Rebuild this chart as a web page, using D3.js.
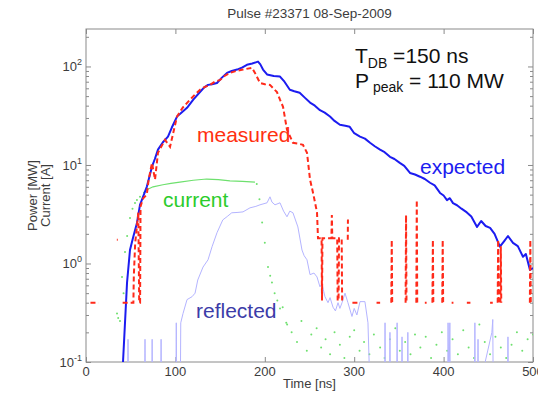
<!DOCTYPE html>
<html><head><meta charset="utf-8">
<script src="https://cdn.jsdelivr.net/npm/d3@7"></script>
<style>body{margin:0;background:#fff;} text{font-family:"Liberation Sans",Arial,Helvetica,sans-serif;}</style>
</head><body><svg id="c" width="538" height="393"></svg>
<script>
// ---- data ----
const xTicks = [0, 100, 200, 300, 400, 500];
const yTicks = [0.1, 1, 10, 100];
const yTickExp = ["-1", "0", "1", "2"];
const title = "Pulse #23371 08-Sep-2009";

// expected power (MW) vs time (ns)
const expected = [[41.4,0.1],[45.9,0.64],[49.2,1.37],[52.6,1.82],[57,2.58],[60.4,3.94],[66,5.35],[68,6],[73.8,9.6],[77,11.5],[80.5,14.3],[86,17],[91.7,19.4],[96,24],[101.8,31],[107,34],[113,38],[120,46],[127.5,55],[132,61],[136.5,65],[141,66],[146.5,68],[152,77],[157.7,86],[163,90],[169,93],[175,98],[180,104],[186,107],[192.4,112],[195,105],[198,93],[202.5,83],[210,80],[217,79],[222,70],[228,58],[233,56],[239,54],[245,48],[250.6,43],[256,40],[261.7,36],[267,34],[272.9,31],[278,28],[284,25.6],[290,25],[295,24.4],[300,21],[306.5,19.4],[312,18.5],[317.7,16.8],[323,15.5],[328.9,14.3],[334,13.5],[340,12.1],[345,11.5],[351,10.5],[356,9.8],[362.4,8.3],[368,8],[373.6,7.6],[379,7.2],[384.8,6.6],[390,6.2],[396,5.2],[400,4.9],[403.8,4.4],[407,4.6],[410.5,4.1],[415,3.9],[420,3.6],[426,3.3],[431,3.0],[437.4,2.35],[442,2.7],[447,2.4],[452,2.3],[457,2.0],[463,1.48],[468,1.7],[472,1.9],[477.6,1.62],[483,1.5],[488.8,1.17],[492,1.25],[496.6,0.86],[500,0.9]];

// measured power (MW); null = gap
const measured = [[5,0.4],[14,0.4],null,
 [34.5,1.74],[35.5,1.74],null,
 [41,0.4],[53,0.4],[53.5,0.75],[55,1.6],[57,2.4],[58.5,3.3],[59.5,0.4],[60.5,0.4],[61,3.8],[64,4.6],[68,5],[70,7],[73.8,10.5],[77.2,7.1],[80.5,13.3],[88.4,18],[94,15.3],[101.8,31],[108,38],[116.3,46],[122,52],[127.5,58],[133,62],[138.7,65],[144,70],[150,73],[155,80],[161,86],[168,90],[175.6,93],[185.7,97],[189,86],[194.6,68],[200,66],[205.8,65],[213.6,55],[217,46],[220.4,39],[224.8,22.8],[231.5,16.8],[237,16.5],[242.7,16],[247.2,13.3],[250.6,7.1],[254,5.2],[258.4,3.3],[259.5,1.8],[263.5,1.8],[264,0.42],[264.5,1.8],[274.5,1.8],[275,3.1],[275.5,1.8],[281,1.8],[281.5,0.42],[282.5,0.42],[283,1.8],[286,1.8],[286.5,0.42],null,
 [292.8,1.74],[293,2.8],null,
 [298,0.4],[304,0.4],null,
 [325,0.4],[329,0.4],null,
 [341.5,0.4],[342,1.74],[342.5,0.4],null,
 [357.5,0.4],[358,3.1],[358.5,0.4],null,
 [369.5,0.4],[370,4.4],[370.5,0.4],null,
 [379,0.4],[381,0.4],null,
 [387.5,0.4],[388,1.74],[388.5,0.4],null,
 [398.5,0.4],[399,1.74],[399.5,0.4],null,
 [409,0.4],[411,0.4],null,
 [426,0.4],[430,0.4],null,
 [452,0.4],[455,0.4],null,
 [460.5,0.4],[461,1.74],[461.5,0.4],null,
 [463.5,0.4],[464,1.5],[464.5,0.4],null,
 [496.5,0.4],[497,1.74],[497.5,0.4]];

// current (A): plateau line and sampled dots
const currentLine = [[64,5.2],[68,5.6],[75,6.0],[86,6.3],[95,6.5],[105,6.7],[120,7.0],[135,7.2],[148,7.1],[161,6.9],[175,6.8],[189,6.7]];
const currentDots = [[34.7,0.31],[36,0.28],[38,0.26],[40.3,0.73],[42,0.5],[43.6,1.31],[46,1.9],[49.2,2.9],[52,3.6],[54.8,4.1],[57,4.4],[60.4,4.75],
 [191,6.4],[194,4.5],[197,2.6],[200,1.62],[203.6,0.92],[206,0.75],[208,0.64],[211,0.5],[214,0.42],[217,0.35],[220,0.36],[224,0.25],
 [225,0.24],[230,0.2],[236,0.16],[241,0.26],[247,0.13],[252,0.19],[258,0.22],[263,0.14],[268,0.17],[273,0.12],[278,0.2],[284,0.15],[289,0.11],[295,0.18],[300,0.21],[306,0.13],[311,0.16],[317,0.12],[322,0.19],[329,0.14],[334,0.11],[340,0.17],[346,0.22],[351,0.13],[357,0.16],[363,0.12],[368,0.19],[374,0.14],[380,0.18],[386,0.11],[392,0.15],[398,0.2],[404,0.13],[410,0.17],[416,0.12],[422,0.21],[428,0.14],[434,0.11],[440,0.24],[446,0.16],[452,0.12],[458,0.18],[464,0.14],[470,0.11],[476,0.15],[482,0.2],[488,0.13],[494,0.17],[500,0.19]];

// reflected power (MW)
const reflected = [[40,0.05],[46.5,0.05],[47,0.17],[47.5,0.05],[65.5,0.05],[66,0.17],[66.5,0.05],[73.5,0.05],[74,0.17],[74.5,0.05],[83.5,0.05],[84,0.17],[84.5,0.05],[100.5,0.05],[101,0.25],[101.5,0.05],[105.5,0.05],[106,0.25],[108.5,0.31],[113,0.43],[118.6,0.46],[122,0.5],[125,0.68],[130.9,0.92],[136.5,1.09],[141,1.48],[146.5,2.05],[153,2.77],[158,3.0],[163,3.27],[170,3.3],[175.6,3.34],[183.4,3.67],[190,3.8],[194.6,3.94],[202.5,4.13],[205.8,4.75],[208,4.2],[211.4,3.94],[217,4.13],[221,3.4],[224.8,2.98],[228,3.4],[231.5,3.27],[237,2.35],[241.6,1.37],[244,1.2],[247.2,1.09],[250.6,0.77],[255,0.8],[258.4,0.73],[261.7,0.58],[264,0.62],[267.3,0.46],[270.7,0.40],[273,0.45],[276.3,0.36],[279,0.33],[281.9,0.40],[284,0.35],[286.4,0.40],[289.7,0.50],[293,0.40],[297.5,0.29],[300,0.35],[303,0.3],[306.5,0.41],[312,0.41],[315.4,0.25],[317.7,0.05],
 [334,0.05],[334.5,0.25],[335,0.05],[339.5,0.05],[340,0.2],[340.5,0.05],[347.5,0.05],[348,0.25],[348.5,0.05],[353,0.05],[353.5,0.18],[354,0.05],[359.5,0.05],[360,0.2],[360.5,0.05],[404.5,0.05],[405,0.25],[406,0.05],[407,0.25],[407.5,0.05],[434.5,0.05],[435,0.25],[435.5,0.05],[438,0.05],[438.5,0.17],[439,0.05],[454,0.2],[455,0.27],[455.5,0.05],[471.5,0.05],[472,0.18],[472.5,0.05],[500,0.05]];

// ---- chart ----
const svg = d3.select("#c");
const L = 86, R = 533, T = 29, B = 362;
const x = d3.scaleLinear().domain([0, 500]).range([L, R]);
const y = d3.scaleLog().domain([0.1, 240]).range([B, T]);

svg.append("defs").append("clipPath").attr("id","clip")
  .append("rect").attr("x",L).attr("y",T).attr("width",R-L).attr("height",B-T);

const axisCol = "#8a8a8a", txtCol = "#3c3c3c";

// axes via d3 axes (inward ticks)
const minor = [];
yTicks.forEach(d => { for (let k = 2; k <= 9; k++) { const v = d*k; if (v < 240) minor.push(v); } });

function styleAxis(g){ g.select(".domain").remove(); g.selectAll("line").attr("stroke",axisCol); g.selectAll("text").remove(); }
svg.append("g").attr("transform",`translate(0,${B})`).call(d3.axisBottom(x).tickValues(xTicks).tickSizeInner(-5).tickSizeOuter(0)).call(styleAxis);
svg.append("g").attr("transform",`translate(0,${T})`).call(d3.axisTop(x).tickValues(xTicks).tickSizeInner(-5).tickSizeOuter(0)).call(styleAxis);
svg.append("g").attr("transform",`translate(${L},0)`).call(d3.axisLeft(y).tickValues(yTicks).tickSizeInner(-5).tickSizeOuter(0)).call(styleAxis);
svg.append("g").attr("transform",`translate(${R},0)`).call(d3.axisRight(y).tickValues(yTicks).tickSizeInner(-5).tickSizeOuter(0)).call(styleAxis);
svg.append("g").attr("transform",`translate(${L},0)`).call(d3.axisLeft(y).tickValues(minor).tickSizeInner(-3).tickSizeOuter(0)).call(styleAxis);
svg.append("g").attr("transform",`translate(${R},0)`).call(d3.axisRight(y).tickValues(minor).tickSizeInner(-3).tickSizeOuter(0)).call(styleAxis);

svg.append("rect").attr("x",L).attr("y",T).attr("width",R-L).attr("height",B-T)
  .attr("fill","none").attr("stroke",axisCol).attr("stroke-width",1);

// tick labels
svg.append("g").selectAll("text").data(xTicks).join("text")
  .attr("x", d => x(d)).attr("y", B + 14).attr("text-anchor","middle")
  .attr("font-size",13).attr("fill",txtCol).text(d => d);
const yl = svg.append("g").selectAll("text").data(yTicks).join("text")
  .attr("x", L - 4).attr("y", d => y(d) + 5).attr("text-anchor","end")
  .attr("font-size",13).attr("fill",txtCol);
yl.append("tspan").text("10");
yl.append("tspan").attr("font-size",9).attr("dy",-6).text((d,i) => yTickExp[i]);

// titles
svg.append("text").attr("x",(L+R)/2).attr("y",18).attr("text-anchor","middle")
  .attr("font-size",13.5).attr("fill",txtCol).text(title);
svg.append("text").attr("x",(L+R)/2).attr("y",388).attr("text-anchor","middle")
  .attr("font-size",13).attr("fill",txtCol).text("Time [ns]");
svg.append("text").attr("transform",`translate(37,${(T+B)/2}) rotate(-90)`).attr("text-anchor","middle")
  .attr("font-size",13).attr("fill",txtCol).text("Power [MW]");
svg.append("text").attr("transform",`translate(50,${(T+B)/2}) rotate(-90)`).attr("text-anchor","middle")
  .attr("font-size",13).attr("fill",txtCol).text("Current [A]");

// data layer
const plot = svg.append("g").attr("clip-path","url(#clip)");
const line = d3.line().defined(d => d !== null).x(d => x(d[0])).y(d => y(d[1]));

plot.append("path").datum(currentLine).attr("d",line).attr("fill","none")
  .attr("stroke","#6ee06e").attr("stroke-width",1.2);
plot.append("g").selectAll("circle").data(currentDots).join("circle")
  .attr("cx",d => x(d[0])).attr("cy",d => y(d[1])).attr("r",1).attr("fill","#6ee06e");
plot.append("path").datum(reflected).attr("d",line).attr("fill","none")
  .attr("stroke","#b4b4ff").attr("stroke-width",1);
plot.append("path").datum(expected).attr("d",line).attr("fill","none")
  .attr("stroke","#1c1cf0").attr("stroke-width",2).attr("stroke-linejoin","round");
plot.append("path").datum(measured).attr("d",line).attr("fill","none")
  .attr("stroke","#ff2a1a").attr("stroke-width",2).attr("stroke-dasharray","5,3");

// annotations
const a1 = svg.append("text").attr("x",355).attr("y",63).attr("font-size",21).attr("fill","#111");
a1.append("tspan").text("T");
a1.append("tspan").attr("font-size",14).attr("dy",5).text("DB");
a1.append("tspan").attr("dy",-5).text(" =150 ns");
const a2 = svg.append("text").attr("x",355).attr("y",88).attr("font-size",21).attr("fill","#111");
a2.append("tspan").text("P");
a2.append("tspan").attr("font-size",14).attr("dy",4).text(" peak");
a2.append("tspan").attr("dy",-4).text(" = 110 MW");

svg.append("text").attr("x",197).attr("y",142).attr("font-size",21).attr("fill","#ff3010").text("measured");
svg.append("text").attr("x",420).attr("y",174).attr("font-size",21).attr("fill","#1c1cf0").text("expected");
svg.append("text").attr("x",163).attr("y",207).attr("font-size",21).attr("fill","#2ccc2c").text("current");
svg.append("text").attr("x",196).attr("y",318).attr("font-size",21).attr("fill","#3c3ca8").text("reflected");
</script></body></html>
